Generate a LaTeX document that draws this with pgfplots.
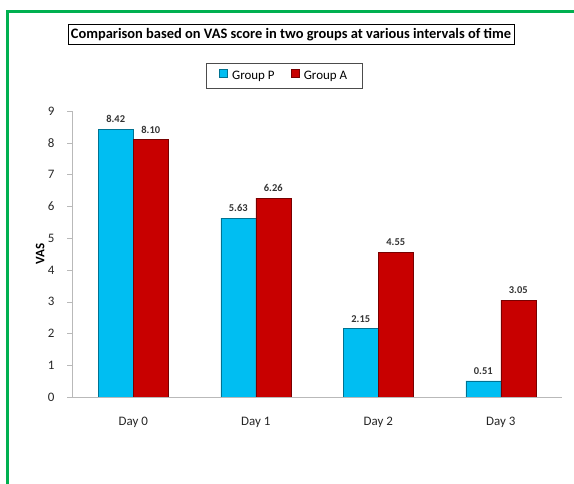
\documentclass[border=0pt]{standalone}
\usepackage{pgfplots}
\pgfplotsset{compat=1.18}
\usepackage{fontspec}
\setmainfont{Carlito}
\definecolor{gborder}{RGB}{0,176,80}
\definecolor{cyanbar}{RGB}{0,190,242}
\definecolor{redbar}{RGB}{200,0,0}
\begin{document}
\begin{tikzpicture}[x=1bp,y=1bp]
\path[use as bounding box] (0,0) rectangle (574,484);
\draw[gborder, line width=3bp] (7,0) -- (7,472.5) -- (574,472.5);
\node[draw, line width=0.8bp, inner xsep=3bp, inner ysep=3.5bp, font=\bfseries\fontsize{14.5}{16}\selectfont] at (291,449.5) {Comparison based on VAS score in two groups at various intervals of time};
\begin{axis}[
  at={(72bp,87bp)}, anchor=south west, scale only axis,
  width=490bp, height=286bp,
  ybar=0pt, bar width=35bp,
  xmin=-0.5, xmax=3.5, ymin=0, ymax=9,
  xtick={0,1,2,3}, xticklabels={Day 0,Day 1,Day 2,Day 3},
  ytick={0,1,...,9},
  axis lines*=left,
  axis line style={draw=gray!55},
  xtick style={draw=none},
  ytick style={draw=gray!55},
  tick align=outside, major tick length=5bp,
  /pgf/number format/assume math mode=true,
  tick label style={font=\fontsize{13}{15}\selectfont, text=black!85},
  xticklabel style={yshift=-12bp},
  yticklabel style={xshift=-9bp},
  ylabel={VAS},
  ylabel style={at={(axis description cs:-0.065,0.5)}, anchor=center, font=\bfseries\fontsize{13}{15}\selectfont},
  nodes near coords,
  point meta=y,
  nodes near coords style={font=\bfseries\fontsize{10.5}{12}\selectfont, text=black!80, anchor=south, yshift=3bp,
    /pgf/number format/.cd, fixed, fixed zerofill, precision=2},
  legend columns=2,
  legend style={at={(0.4327,1.1224)}, anchor=center, draw=black!70, line width=0.6bp,
    font=\fontsize{13}{15}\selectfont, inner xsep=13bp, inner ysep=5.5bp,
    /tikz/every even column/.append style={column sep=14bp}},
  legend image code/.code={\fill[#1] (0bp,-1bp) rectangle (8bp,7bp); \path[draw=none, fill=none] (0bp,0bp) -- (11bp,0bp);},
]
\addplot[fill=cyanbar, draw=cyanbar!60!black, line width=0.4bp] coordinates {(0,8.42) (1,5.63) (2,2.15) (3,0.51)};
\addplot[fill=redbar, draw=redbar!60!black, line width=0.4bp] coordinates {(0,8.10) (1,6.26) (2,4.55) (3,3.05)};
\legend{Group P, Group A}
\end{axis}
\end{tikzpicture}
\end{document}
